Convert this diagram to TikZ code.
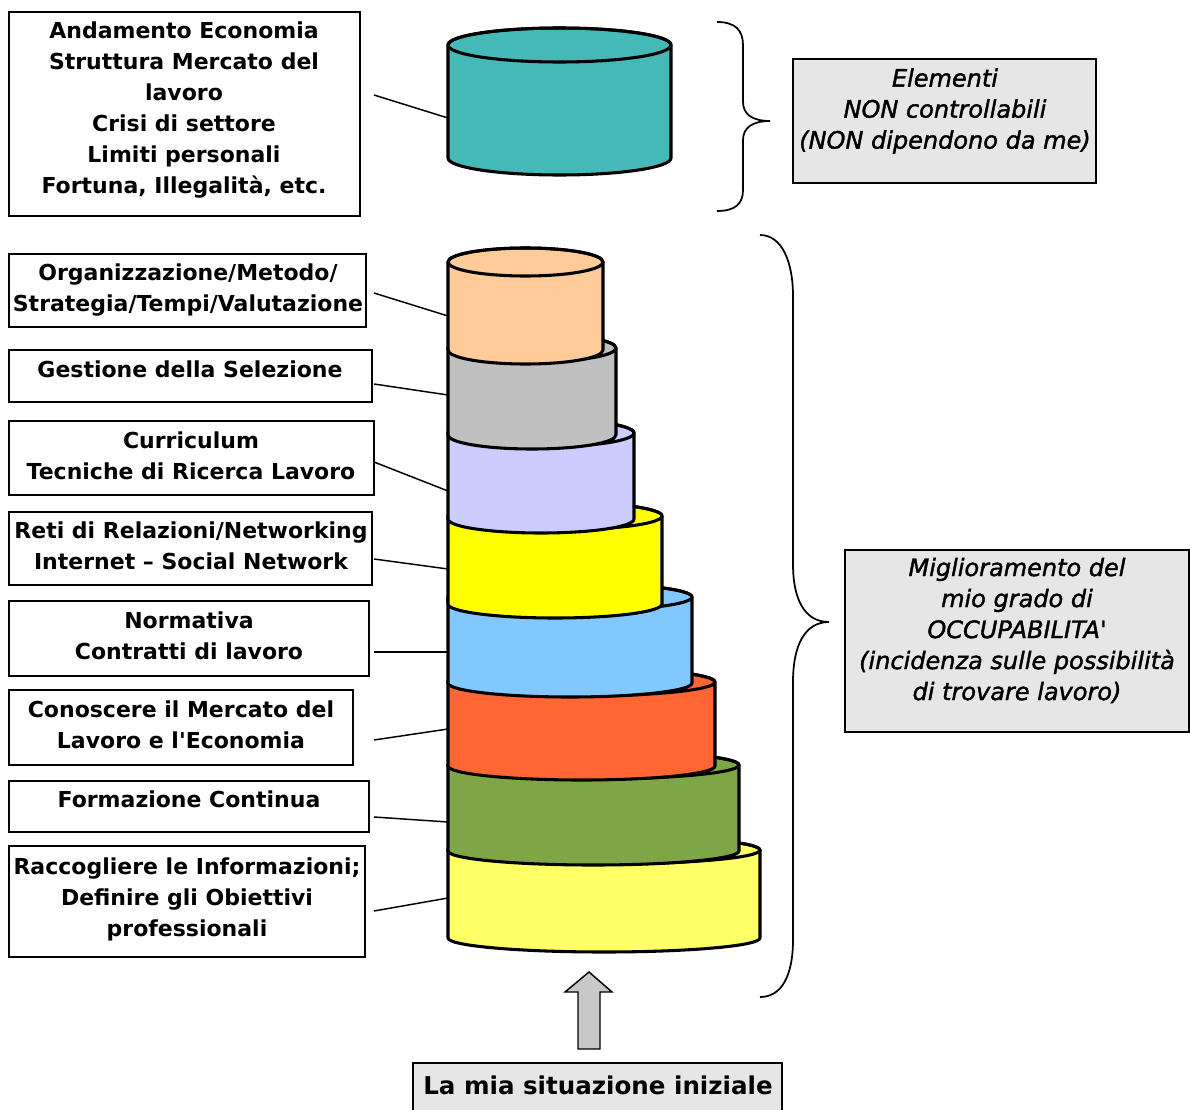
\documentclass[tikz,border=0pt]{standalone}
\usepackage{fontspec}
\setmainfont{DejaVu Sans}[Ligatures=TeXOff]
\newfontfamily\rfont{DejaVu Sans Oblique}[Ligatures=TeXOff,BoldFont={DejaVu Sans Oblique},BoldFeatures={FakeBold=1.6}]
\usetikzlibrary{fit}
\definecolor{teal1}{HTML}{45B8B8}
\definecolor{peach}{HTML}{FFCC99}
\definecolor{gray1}{HTML}{C0C0C0}
\definecolor{lav}{HTML}{CCCCFF}
\definecolor{yel}{HTML}{FFFF00}
\definecolor{lblue}{HTML}{80C8FF}
\definecolor{orng}{HTML}{FF6633}
\definecolor{grn}{HTML}{7EA646}
\definecolor{lyel}{HTML}{FFFF66}
\definecolor{boxgray}{HTML}{E6E6E6}
\definecolor{arrgray}{HTML}{C8C8C8}
\newcommand{\drawcan}[5]{%
  \filldraw[cyl,fill=#1] (448,-#4) arc[start angle=180,end angle=360,x radius={(#2-448)/2},y radius=#5]
    -- (#2,-#3) arc[start angle=0,end angle=180,x radius={(#2-448)/2},y radius=#5] -- cycle;
  \draw[cyl] ({(448+#2)/2},-#3) ellipse[x radius={(#2-448)/2},y radius=#5];
}
\begin{document}
\begin{tikzpicture}[x=0.75pt,y=0.75pt,
  box/.style={draw=black,line width=1.4pt,fill=white,inner sep=0pt},
  gbox/.style={draw=black,line width=1.3pt,fill=boxgray,inner sep=0pt},
  ltxt/.style={font=\bfseries\fontsize{16.5}{23.25}\selectfont,align=center,inner sep=0pt},
  rtxt/.style={font=\rfont\bfseries\fontsize{18}{23.25}\selectfont,align=center,inner sep=0pt},
  btxt/.style={font=\bfseries\fontsize{18.4}{23.25}\selectfont,align=center,inner sep=0pt},
  link/.style={line width=1.1pt},
  cyl/.style={draw=black,line width=2.3pt,line join=round},
  brace/.style={line width=1.3pt},
  bigarrow/.style={draw=black,line width=1.1pt,fill=arrgray,line join=miter}]
\useasboundingbox (0,0) rectangle (1190,-1110);

% ---------- left boxes ----------
\node[box,fit={(9,-12) (360,-216)}] (b1) {};
\node[box,fit={(9,-254) (366,-327)}] (b2) {};
\node[box,fit={(9,-350) (372,-402)}] (b3) {};
\node[box,fit={(9,-421) (374,-495)}] (b4) {};
\node[box,fit={(9,-512) (372,-585)}] (b5) {};
\node[box,fit={(9,-601) (369,-676)}] (b6) {};
\node[box,fit={(9,-690) (353,-765)}] (b7) {};
\node[box,fit={(9,-781) (369,-832)}] (b8) {};
\node[box,fit={(9,-846) (365,-957)}] (b9) {};

\node[ltxt] (t1) at (184,-110.5) {Andamento Economia\\Struttura Mercato del\\lavoro\\Crisi di settore\\Limiti personali\\Fortuna, Illegalità, etc.};
\node[ltxt] (t2) at (188,-290.5) {Organizzazione/Metodo/\\Strategia/Tempi/Valutazione};
\node[ltxt] (t3) at (190,-369) {Gestione della Selezione};
\node[ltxt] (t4) at (191,-455.5) {Curriculum\\Tecniche di Ricerca Lavoro};
\node[ltxt] (t5) at (191,-545.5) {Reti di Relazioni/Networking\\Internet – Social Network};
\node[ltxt] (t6) at (189,-635.5) {Normativa\\Contratti di lavoro};
\node[ltxt] (t7) at (181,-724.5) {Conoscere il Mercato del\\Lavoro e l'Economia};
\node[ltxt] (t8) at (189,-799) {Formazione Continua};
\node[ltxt] (t9) at (187,-899) {Raccogliere le Informazioni;\\Definire gli Obiettivi\\professionali};

% ---------- cylinders ----------
\drawcan{teal1}{671}{45}{158}{17}
\drawcan{lyel}{760}{850}{938}{14}
\drawcan{grn}{739}{765}{851}{14}
\drawcan{orng}{715}{682}{766}{14}
\drawcan{lblue}{692}{597}{683}{14}
\drawcan{yel}{662}{516}{604}{14}
\drawcan{lav}{634}{433}{519}{14}
\drawcan{gray1}{616}{348}{435}{14}
\drawcan{peach}{603}{262}{350}{14}

% ---------- connectors ----------
\coordinate (s1) at (374,-95);   \coordinate (e1) at (448,-118);
\coordinate (s2) at (374,-293);  \coordinate (e2) at (448,-316);
\coordinate (s3) at (374,-384);  \coordinate (e3) at (448,-395);
\coordinate (s4) at (374,-462);  \coordinate (e4) at (448,-491);
\coordinate (s5) at (374,-559);  \coordinate (e5) at (448,-569);
\coordinate (s6) at (374,-652);  \coordinate (e6) at (448,-652);
\coordinate (s7) at (374,-740);  \coordinate (e7) at (448,-729);
\coordinate (s8) at (374,-817);  \coordinate (e8) at (448,-822);
\coordinate (s9) at (374,-911);  \coordinate (e9) at (448,-898);
\foreach \i in {1,...,9} {\draw[link] (s\i) -- (e\i);}

% ---------- braces ----------
\coordinate (br1a) at (717,-22);
\coordinate (br1b) at (717,-211);
\coordinate (br1t) at (770,-121);
\draw[brace] (br1a) .. controls (735,-22) and (743,-30) .. (743,-45) -- (743,-102)
  .. controls (743,-114) and (752,-121) .. (br1t)
  .. controls (752,-121) and (743,-128) .. (743,-140) -- (743,-190)
  .. controls (743,-204) and (735,-211) .. (br1b);

\coordinate (br2a) at (760,-235);
\coordinate (br2b) at (760,-997);
\coordinate (br2t) at (829,-622);
\draw[brace] (br2a) .. controls (782,-235) and (793,-262) .. (793,-296) -- (793,-564)
  .. controls (793,-600) and (805,-622) .. (br2t)
  .. controls (805,-622) and (793,-645) .. (793,-682) -- (793,-940)
  .. controls (793,-975) and (782,-997) .. (br2b);

% ---------- right boxes ----------
\node[gbox,fit={(793,-59) (1096,-183)}] (r1) {};
\node[rtxt] (rt1) at (945,-111) {Elementi\\NON controllabili\\(NON dipendono da me)};
\node[gbox,fit={(845,-550) (1189,-732)}] (r2) {};
\node[rtxt] (rt2) at (1017,-630.5) {Miglioramento del\\mio grado di\\OCCUPABILITA'\\(incidenza sulle possibilità\\di trovare lavoro)};

% ---------- arrow and bottom box ----------
\draw[bigarrow] (578,-1049) -- (578,-992) -- (565,-992) -- (589,-972) -- (612,-992) -- (600,-992) -- (600,-1049) -- cycle;
\node[gbox,line width=1.5pt,fit={(413,-1063) (782,-1116)}] (bb) {};
\node[btxt] (bt) at (598,-1085) {La mia situazione iniziale};
\end{tikzpicture}
\end{document}
